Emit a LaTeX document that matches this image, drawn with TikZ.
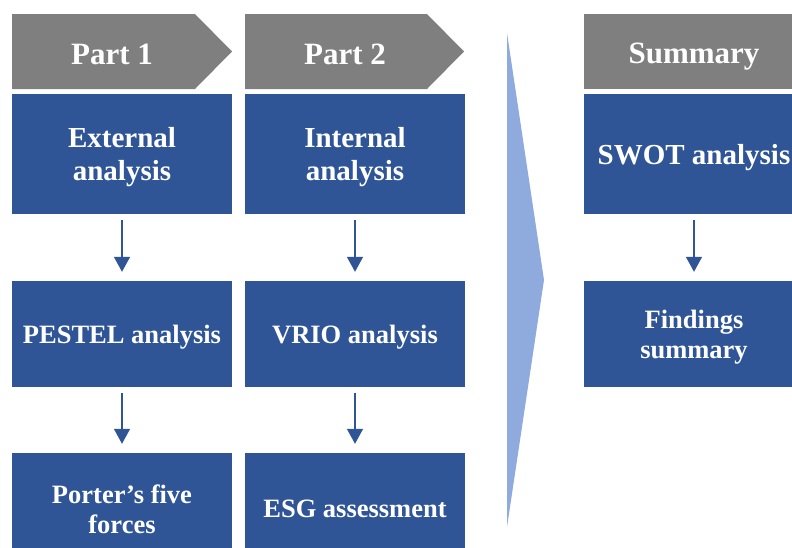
\documentclass[tikz,border=0pt]{standalone}
\usepackage{fontspec}
\setmainfont{Liberation Serif}
\usetikzlibrary{arrows.meta}
\definecolor{boxblue}{HTML}{2F5597}
\definecolor{hdgray}{HTML}{7F7F7F}
\definecolor{flowblue}{HTML}{8FAADC}
\begin{document}
\begin{tikzpicture}
  [x=1pt,y=-1pt,
   box/.style={rectangle,fill=boxblue,text=white,minimum width=220pt,inner sep=0pt,
     align=center,text depth=0pt,font=\fontsize{26.5}{30}\selectfont\bfseries},
   topbox/.style={box,minimum height=120pt,font=\fontsize{29}{33}\selectfont\bfseries},
   hdtext/.style={anchor=base,text=white,inner sep=0pt,font=\fontsize{31}{36}\selectfont\bfseries},
   arr/.style={draw=boxblue,line width=1.5pt,-{Triangle[width=16pt,length=15pt]},
     shorten <=6pt,shorten >=9pt}]
  \clip (0,0) rectangle (792,547);

  % headers
  \fill[hdgray] (12,14) -- (195,14) -- (232,51.5) -- (195,89) -- (12,89) -- cycle;
  \fill[hdgray] (245,14) -- (427,14) -- (464,51.5) -- (427,89) -- (245,89) -- cycle;
  \fill[hdgray] (584,14) rectangle (804,89);
  \node[hdtext] (h1) at (112,64) {Part 1};
  \node[hdtext] (h2) at (345,64) {Part 2};
  \node[hdtext] (h3) at (694,63) {Summary};

  % flow chevron
  \fill[flowblue] (507,33) -- (544,280) -- (507,527) -- cycle;

  % boxes
  \node[topbox] (ext) at (122,154) {External\\analysis};
  \node[topbox] (int) at (355,154) {Internal\\analysis};
  \node[topbox] (swot) at (694,154) {SWOT analysis};
  \node[box,minimum height=106pt] (pest) at (122,334) {PESTEL analysis};
  \node[box,minimum height=106pt] (vrio) at (355,334) {VRIO analysis};
  \node[box,minimum height=106pt] (find) at (694,334) {Findings\\summary};
  \node[box,minimum height=112pt] (port) at (122,509) {Porter’s five\\forces};
  \node[box,minimum height=112pt] (esg) at (355,509) {ESG assessment};

  \foreach \from/\to in {ext/pest,pest/port,int/vrio,vrio/esg,swot/find}
    \draw[arr] (\from) -- (\to);
\end{tikzpicture}
\end{document}
